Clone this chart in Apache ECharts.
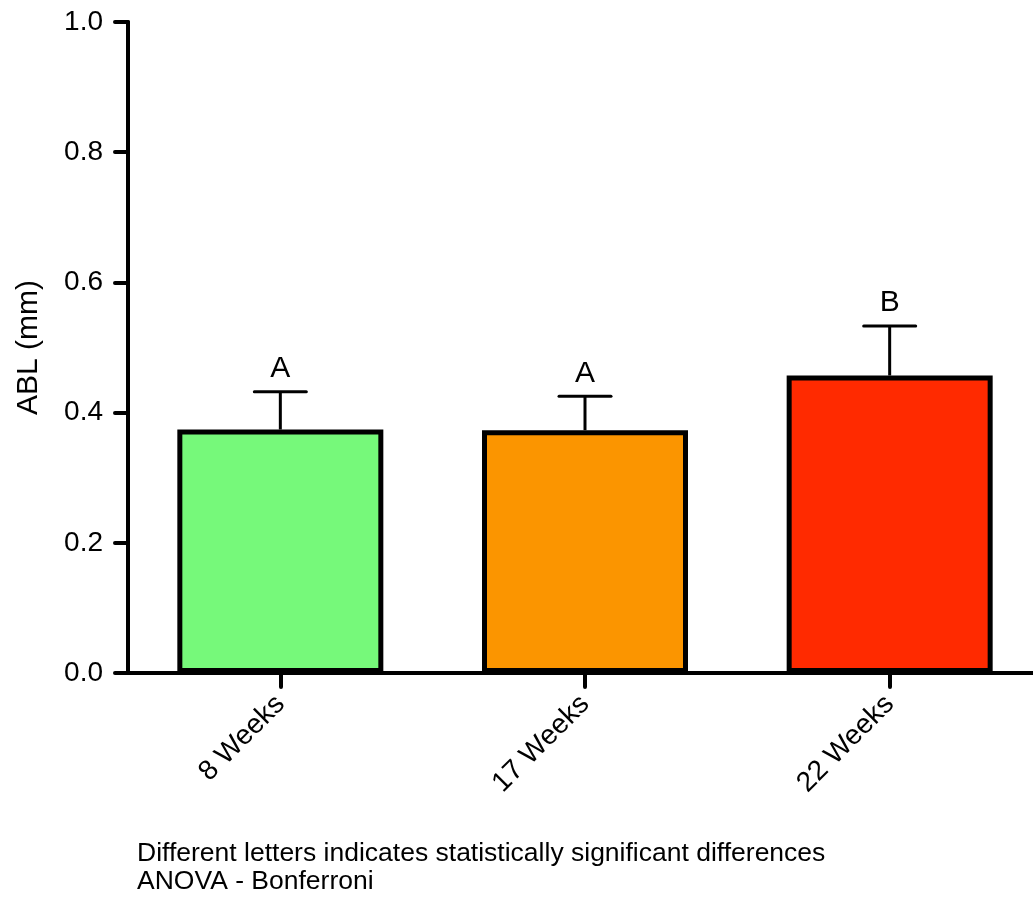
<!DOCTYPE html>
<html>
<head>
<meta charset="utf-8">
<script src="https://cdn.jsdelivr.net/npm/echarts@6/dist/echarts.min.js"></script>
<style>
html,body{margin:0;padding:0;background:#fff;}
#chart{width:1033px;height:897px;}
</style>
</head>
<body>
<div id="chart"></div>
<script>
const categories = ['8 Weeks', '17 Weeks', '22 Weeks'];
const means = [0.374, 0.373, 0.457];
const errors = [0.058, 0.052, 0.076];
const letters = ['A', 'A', 'B'];
const barColors = ['#76F97A', '#FB9500', '#FF2A00'];
const yTicks = [0, 0.2, 0.4, 0.6, 0.8, 1.0];
const footnote = ['Different letters indicates statistically significant differences', 'ANOVA - Bonferroni'];

const FONT = '"Liberation Sans", Arial, sans-serif';
const chart = echarts.init(document.getElementById('chart'));

const errData = categories.map((c, i) => [i, means[i], errors[i], letters[i]]);

chart.setOption({
  backgroundColor: '#fff',
  animation: false,
  grid: { left: 128, right: -9, top: 22, bottom: 224, containLabel: false, outerBoundsMode: 'none' },
  xAxis: {
    type: 'category',
    data: categories,
    boundaryGap: true,
    axisLine: { show: true, lineStyle: { color: '#000', width: 4, cap: 'round' } },
    axisTick: { show: true, alignWithLabel: true, length: 14, lineStyle: { color: '#000', width: 4, cap: 'round' } },
    axisLabel: { rotate: 45, margin: 27, color: '#000', fontSize: 28, fontFamily: FONT },
    splitLine: { show: false }
  },
  yAxis: {
    type: 'value',
    min: 0, max: 1, interval: 0.2,
    name: 'ABL (mm)',
    nameLocation: 'middle',
    nameGap: 84,
    nameTextStyle: { color: '#000', fontSize: 30, fontFamily: FONT },
    axisLine: { show: true, lineStyle: { color: '#000', width: 4, cap: 'round' } },
    axisTick: { show: true, length: 13, lineStyle: { color: '#000', width: 4, cap: 'round' } },
    axisLabel: { margin: 25, color: '#000', fontSize: 28, fontFamily: FONT,
      formatter: v => v.toFixed(1) },
    splitLine: { show: false }
  },
  series: [
    {
      type: 'bar',
      barWidth: 206,
      data: means.map((v, i) => ({ value: v, itemStyle: { color: barColors[i] } })),
      itemStyle: { borderColor: '#000', borderWidth: 5 },
      z: 2
    },
    {
      type: 'custom',
      data: errData,
      z: 3,
      renderItem: function (params, api) {
        const i = api.value(0);
        const m = api.value(1);
        const e = api.value(2);
        const base = api.coord([i, m]);
        const top = api.coord([i, m + e]);
        const hw = 26;
        return {
          type: 'group',
          children: [
            { type: 'line', shape: { x1: base[0], y1: base[1], x2: top[0], y2: top[1] },
              style: { stroke: '#000', lineWidth: 3 } },
            { type: 'line', shape: { x1: top[0] - hw, y1: top[1], x2: top[0] + hw, y2: top[1] },
              style: { stroke: '#000', lineWidth: 3, lineCap: 'round' } },
            { type: 'text', x: top[0], y: top[1] - 8,
              style: { text: letters[i], fill: '#000', font: '30px ' + FONT, textAlign: 'center', textVerticalAlign: 'bottom' } }
          ]
        };
      }
    }
  ],
  graphic: [
    { type: 'text', left: 137, top: 840,
      style: { text: footnote.join('\n'), fill: '#000', font: '26.5px ' + FONT, lineHeight: 28 } }
  ]
});
</script>
</body>
</html>
